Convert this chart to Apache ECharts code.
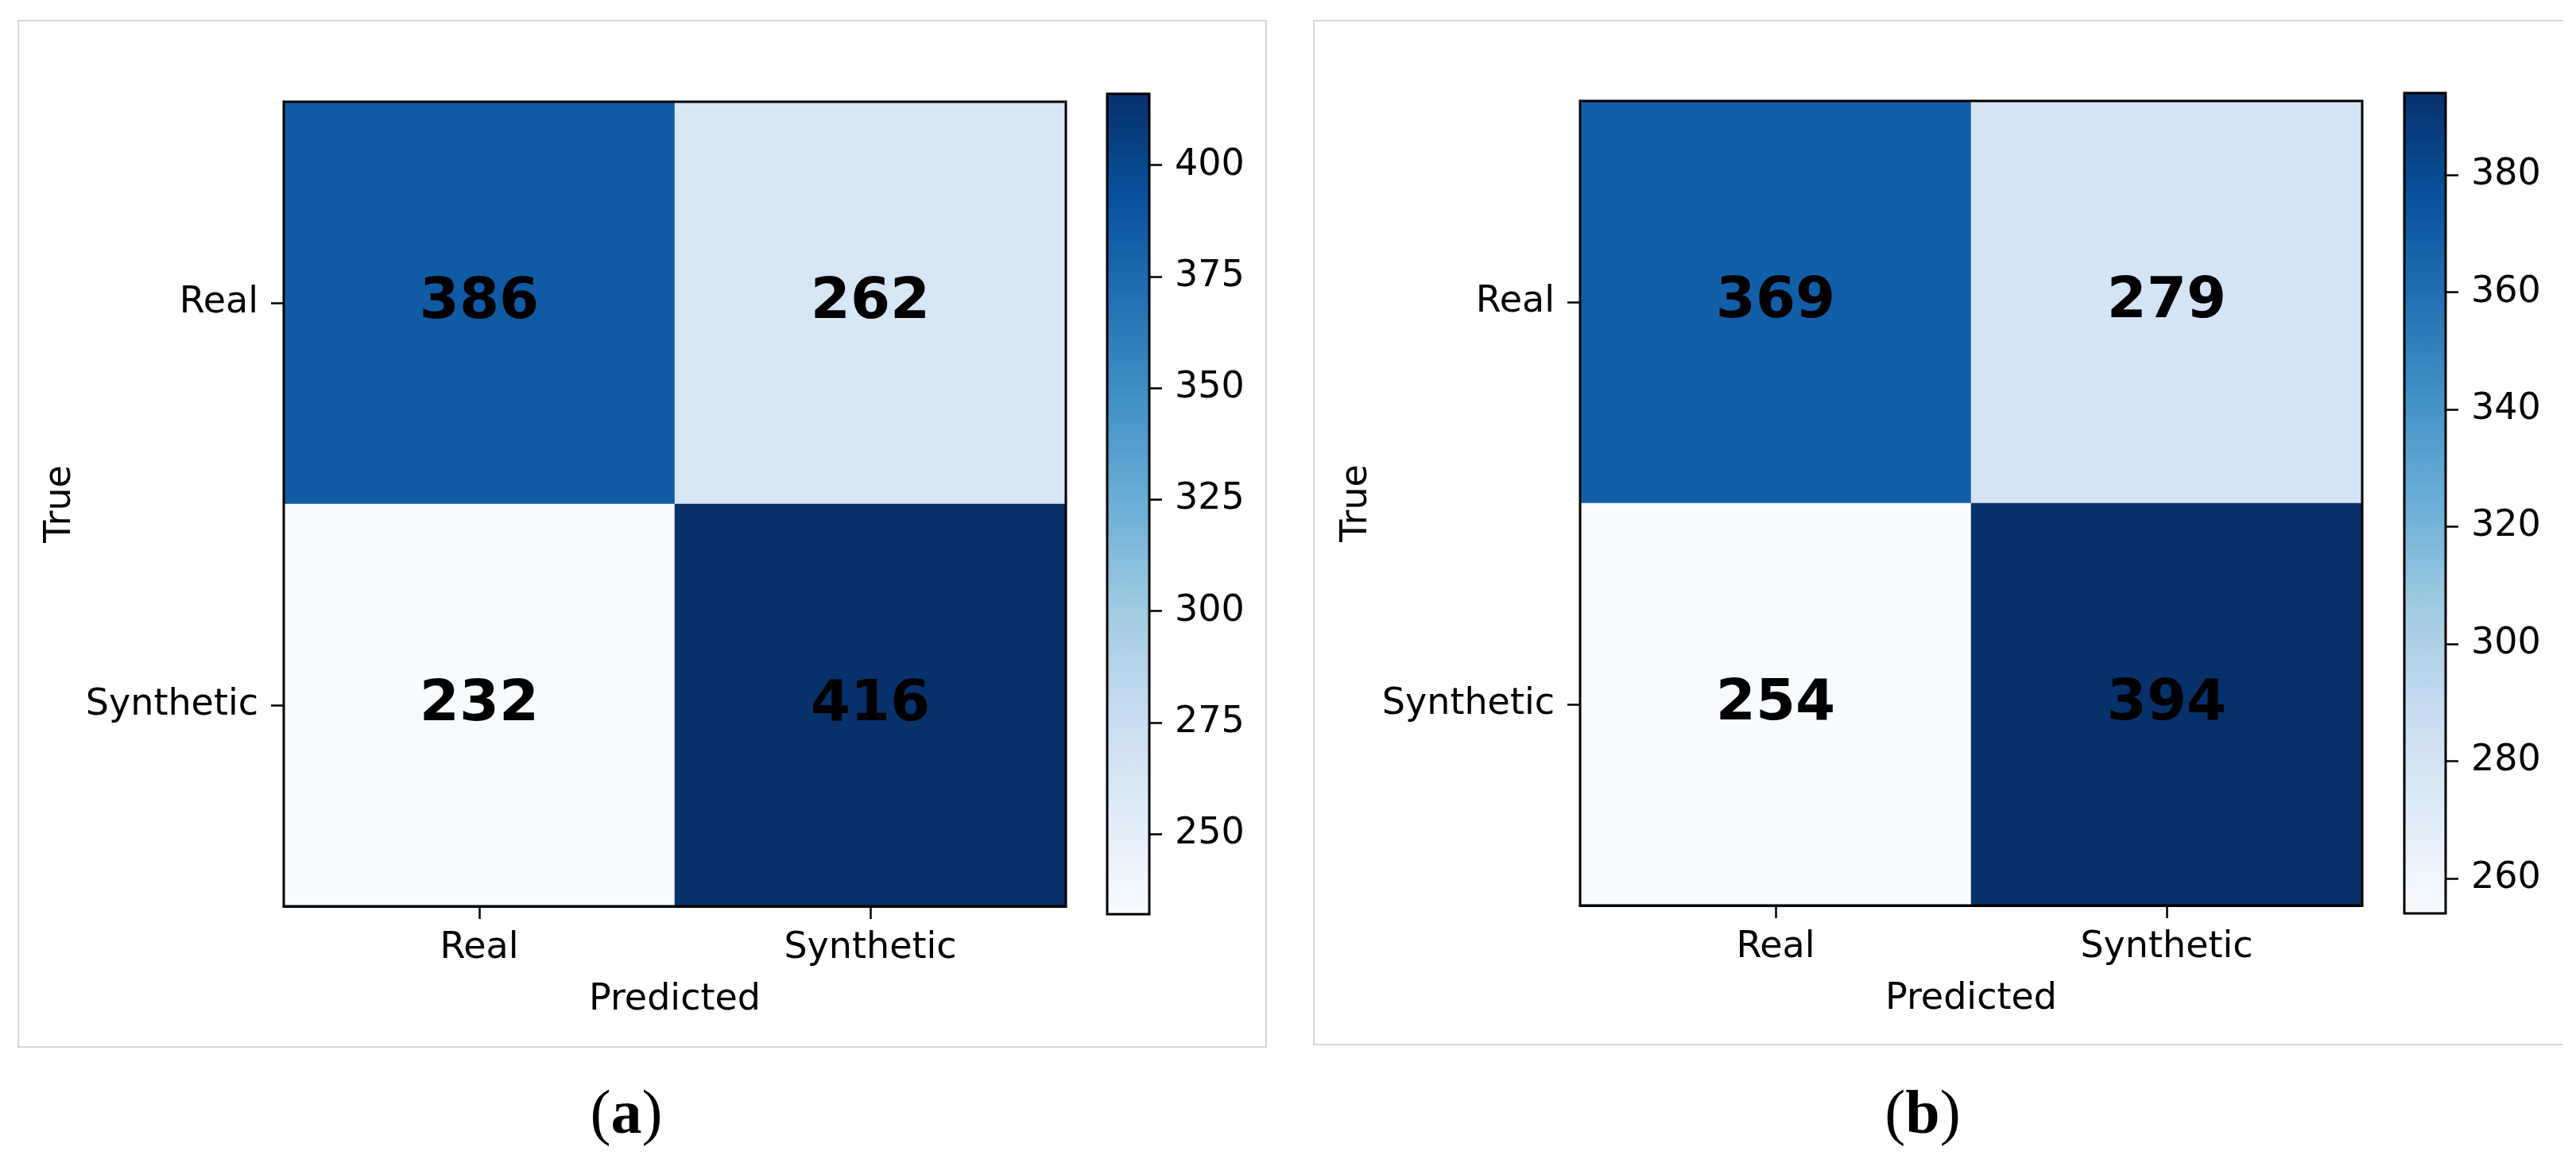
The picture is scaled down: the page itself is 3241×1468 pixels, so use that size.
<!DOCTYPE html>
<html>
<head>
    <meta charset="utf-8">
    <title>Confusion matrices</title>
    <script src="https://cdn.jsdelivr.net/npm/echarts@6.0.0/dist/echarts.min.js"></script>
    <style type="text/css">
        * {
            margin: 0px;
            padding: 0px;
        }

        #main {
            width: 3241px;
            height: 1468px;
            background: #fff;
        }
    </style>
</head>
<body>
<div id="main"></div>
<script type="text/javascript">
    // class names (rows = true, columns = predicted)
    var categories = ['Real', 'Synthetic'];

    // panel (a) counts
    var matrixA = [
        [386, 262],
        [232, 416]
    ];
    // panel (b) counts
    var matrixB = [
        [369, 279],
        [254, 394]
    ];

    // colorbar tick labels
    var ticksA = [250, 275, 300, 325, 350, 375, 400];
    var ticksB = [260, 280, 300, 320, 340, 360, 380];

    // matplotlib "Blues"
    var blues = ['#f7fbff', '#deebf7', '#c6dbef', '#9ecae1', '#6baed6',
        '#4292c6', '#2171b5', '#08519c', '#08306b'];

    var FONT = 'DejaVu Sans';

    function toCells(m) {
        var out = [];
        for (var i = 0; i < m.length; i++) {
            for (var j = 0; j < m[i].length; j++) {
                out.push([j, i, m[i][j]]);
            }
        }
        return out;
    }

    function range(m) {
        var flat = [].concat.apply([], m);
        return [Math.min.apply(null, flat), Math.max.apply(null, flat)];
    }

    var rA = range(matrixA);
    var rB = range(matrixB);

    // one panel = heatmap grid + colorbar grid
    var panels = [
        {heat: {left: 357, top: 128}, bar: {left: 1393, top: 118, width: 53}, r: rA, ticks: ticksA, m: matrixA},
        {heat: {left: 1988, top: 127}, bar: {left: 3025, top: 117, width: 52}, r: rB, ticks: ticksB, m: matrixB}
    ];

    var grid = [], xAxis = [], yAxis = [], series = [], visualMap = [];
    var tickStyle = {show: true, alignWithLabel: true, length: 16, lineStyle: {color: '#000', width: 2.5}};

    panels.forEach(function (p, k) {
        grid.push({
            left: p.heat.left, top: p.heat.top, width: 984, height: 1012,
            show: true, z: 5, borderColor: '#000', borderWidth: 3, backgroundColor: 'transparent'
        });
        grid.push({
            left: p.bar.left, top: p.bar.top, width: p.bar.width, height: 1032,
            show: true, z: 6, borderColor: '#000', borderWidth: 3, backgroundColor: 'transparent'
        });

        xAxis.push({
            type: 'category', gridIndex: 2 * k, data: categories,
            name: 'Predicted', nameLocation: 'middle', nameGap: 95,
            nameTextStyle: {fontFamily: FONT, fontSize: 46, color: '#000'},
            axisLine: {show: true, lineStyle: {color: '#000', width: 3}},
            axisTick: tickStyle,
            axisLabel: {fontFamily: FONT, fontSize: 46, color: '#000', margin: 30},
            splitLine: {show: false}
        });
        xAxis.push({
            type: 'category', gridIndex: 2 * k + 1, data: [''], show: false
        });

        yAxis.push({
            type: 'category', gridIndex: 2 * k, data: categories, inverse: true,
            name: 'True', nameLocation: 'middle', nameGap: 258,
            nameTextStyle: {fontFamily: FONT, fontSize: 46, color: '#000'},
            axisLine: {show: true, lineStyle: {color: '#000', width: 3}},
            axisTick: tickStyle,
            axisLabel: {fontFamily: FONT, fontSize: 46, color: '#000', margin: 32},
            splitLine: {show: false}
        });
        yAxis.push({
            type: 'value', gridIndex: 2 * k + 1, position: 'right',
            min: p.r[0], max: p.r[1],
            axisLine: {show: false},
            splitLine: {show: false},
            axisTick: {show: true, customValues: p.ticks, length: 16, lineStyle: {color: '#000', width: 2.5}},
            axisLabel: {customValues: p.ticks, fontFamily: FONT, fontSize: 46, color: '#000', margin: 32}
        });

        series.push({
            type: 'heatmap',
            xAxisIndex: 2 * k, yAxisIndex: 2 * k,
            data: toCells(p.m),
            label: {
                show: true,
                fontFamily: FONT, fontSize: 72, fontWeight: 'bold', color: '#000',
                formatter: function (d) { return d.value[2]; }
            },
            emphasis: {disabled: true}
        });

        visualMap.push({
            type: 'continuous',
            seriesIndex: k,
            min: p.r[0], max: p.r[1],
            inRange: {color: blues},
            calculable: false, hoverLink: false,
            orient: 'vertical',
            left: p.bar.left, top: p.bar.top,
            itemWidth: p.bar.width, itemHeight: 1032,
            padding: 0
        });
    });

    var captionRich = {
        p: {fontFamily: 'Liberation Serif', fontSize: 78, color: '#000'},
        b: {fontFamily: 'Liberation Serif', fontSize: 78, fontWeight: 'bold', color: '#000'}
    };

    var option = {
        backgroundColor: '#fff',
        animation: false,
        grid: grid,
        xAxis: xAxis,
        yAxis: yAxis,
        visualMap: visualMap,
        series: series,
        graphic: [
            {type: 'rect', z: -1, shape: {x: 23, y: 26, width: 1570, height: 1291},
                style: {fill: 'none', stroke: '#d6d6d6', lineWidth: 2}},
            {type: 'polyline', z: -1, shape: {points: [[3225, 26], [1653, 26], [1653, 1314], [3225, 1314]]},
                style: {fill: 'none', stroke: '#d6d6d6', lineWidth: 2}},
            {type: 'text', x: 788, y: 1405,
                style: {text: '{p|(}{b|a}{p|)}', rich: captionRich, align: 'center', verticalAlign: 'middle',
                    textAlign: 'center', textVerticalAlign: 'middle'}},
            {type: 'text', x: 2419, y: 1405,
                style: {text: '{p|(}{b|b}{p|)}', rich: captionRich, align: 'center', verticalAlign: 'middle',
                    textAlign: 'center', textVerticalAlign: 'middle'}}
        ]
    };

    var chart = echarts.init(document.getElementById('main'));
    chart.setOption(option);
</script>
</body>
</html>
